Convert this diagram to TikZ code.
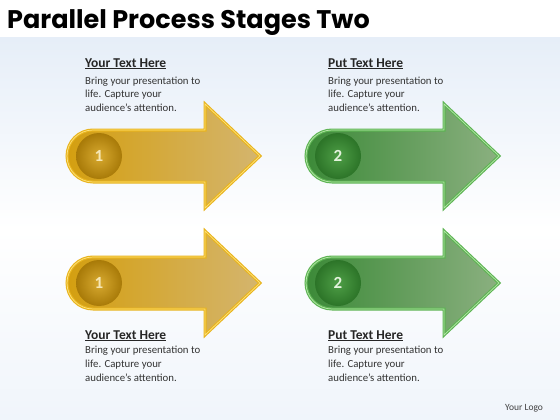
\documentclass[tikz,border=0pt]{standalone}
\usepackage{fontspec}
\setmainfont{Carlito}
\newfontfamily\titlefont{Poppins}
\usetikzlibrary{calc}
\definecolor{golddark}{HTML}{D49F10}
\definecolor{goldlight}{HTML}{D4B56E}
\definecolor{goldedge}{HTML}{E8B41E}
\definecolor{goldhi}{HTML}{FFE27A}
\definecolor{goldin}{HTML}{D8AA30}
\definecolor{goldout}{HTML}{A87A08}
\definecolor{goldnum}{HTML}{F6E7B5}
\definecolor{greendark}{HTML}{3C8A38}
\definecolor{greenlight}{HTML}{8BB080}
\definecolor{greenedge}{HTML}{5DB453}
\definecolor{greenhi}{HTML}{B6E6A8}
\definecolor{greenin}{HTML}{4E9E46}
\definecolor{greenout}{HTML}{2C7428}
\definecolor{greennum}{HTML}{E4F3DE}
\definecolor{bgblue}{HTML}{E6EEF8}
\tikzset{
  head/.style={anchor=base west, inner sep=0pt, text=black!85,
    font=\bfseries\fontsize{13.5}{15}\selectfont},
  body/.style={anchor=base west, inner sep=0pt, align=left, text=black!80,
    font=\fontsize{10.8}{14}\selectfont},
  numlabel/.style={circle, minimum size=46pt, inner sep=0pt,
    font=\bfseries\fontsize{17}{17}\selectfont},
}
\newcommand\stagearrow[5]{%
  \begin{scope}[shift={(#2,#3)}]
    \path[left color=#4dark, right color=#4light, draw=#4edge, line width=3pt, line join=miter]
      (0,-26) -- (112,-26) -- (112,-52) -- (167,0) -- (112,52) -- (112,26) -- (0,26)
      arc (90:270:26) -- cycle;
    \draw[#4hi, line width=0.7pt, line join=miter]
      (0,-26) -- (112,-26) -- (112,-52) -- (167,0) -- (112,52) -- (112,26) -- (0,26)
      arc (90:270:26) -- cycle;
    \node[numlabel, inner color=#4in, outer color=#4out, text=#4num] (#1) at (6,0) {#5};
  \end{scope}}
\begin{document}
\begin{tikzpicture}[x=1pt, y=-1pt]
  \useasboundingbox (0,0) rectangle (560,420);
  \fill[white] (0,0) rectangle (560,420);
  \shade[top color=bgblue, bottom color=bgblue!60!white, middle color=white] (0,38) rectangle (560,420);
  \node[anchor=base west, inner sep=0pt, font=\titlefont\bfseries\fontsize{25.5}{28}\selectfont] (title) at (7,29) {Parallel Process Stages Two};

  \stagearrow{n1a}{93}{156}{gold}{1}
  \stagearrow{n2a}{332}{156}{green}{2}
  \stagearrow{n1b}{93}{283}{gold}{1}
  \stagearrow{n2b}{332}{283}{green}{2}

  \node[head] (h1) at (85,67) {\underline{Your Text Here}};
  \node[body] (b1) at (85,112) {Bring your presentation to\\life. Capture your\\audience’s attention.};
  \node[head] (h2) at (328,67) {\underline{Put Text Here}};
  \node[body] (b2) at (328,112) {Bring your presentation to\\life. Capture your\\audience’s attention.};
  \node[head] (h3) at (85,339) {\underline{Your Text Here}};
  \node[body] (b3) at (85,381) {Bring your presentation to\\life. Capture your\\audience’s attention.};
  \node[head] (h4) at (328,339) {\underline{Put Text Here}};
  \node[body] (b4) at (328,381) {Bring your presentation to\\life. Capture your\\audience’s attention.};

  \node[anchor=base west, inner sep=0pt, text=black!75, font=\fontsize{9.5}{10}\selectfont] (logo) at (505,410) {Your Logo};
\end{tikzpicture}
\end{document}
